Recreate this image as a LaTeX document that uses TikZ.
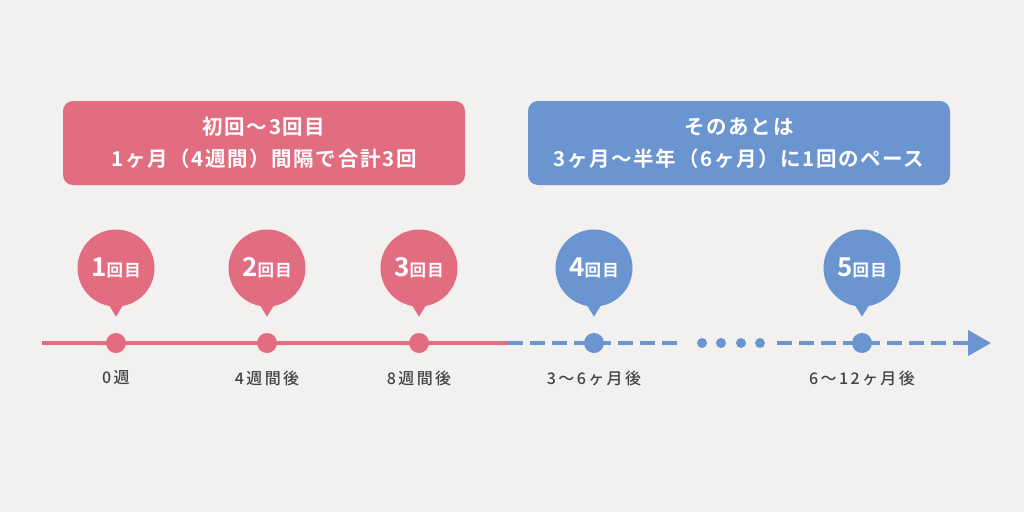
\documentclass[tikz,border=0pt]{standalone}
\usepackage{fontspec}
\usepackage{xcolor}
\usetikzlibrary{arrows.meta,positioning,calc}
\newfontfamily\jpbold[LetterSpace=8]{Noto Sans CJK JP Bold}
\newfontfamily\jplabel[LetterSpace=15]{Noto Sans CJK JP Medium}
\definecolor{vacPink}{RGB}{226,109,129}
\definecolor{vacBlue}{RGB}{107,149,208}
\definecolor{vacBack}{RGB}{243,241,239}
\definecolor{vacText}{RGB}{68,68,68}

\begin{document}
\begin{tikzpicture}[x=1pt, y=-1pt,
    phase/.style={rectangle, rounded corners=10pt, minimum width=402pt,
                  minimum height=84pt, text=white, align=center,
                  font=\jpbold\fontsize{20.5}{32}\selectfont},
    pin/.style={circle, minimum size=77pt, inner sep=0pt, text=white,
                font=\jpbold},
    tick/.style={circle, minimum size=20pt, inner sep=0pt},
    dot/.style={circle, minimum size=10pt, inner sep=0pt, fill=vacBlue},
    when/.style={text=vacText, font=\jplabel\fontsize{16}{16}\selectfont},
    early/.style={vacPink, line width=4pt},
    later/.style={vacBlue, line width=4pt, dash pattern=on 15pt off 7pt}
  ]
  \useasboundingbox[fill=vacBack] (0,0) rectangle (1024,512);

  \node[phase, fill=vacPink] (first) at (264,143)
    {初回〜3回目\\1ヶ月（4週間）間隔で合計3回};
  \node[phase, fill=vacBlue, minimum width=422pt] (after) at (739,143)
    {そのあとは\\3ヶ月〜半年（6ヶ月）に1回のペース};

  \coordinate (start) at (42,343);
  \coordinate (mid)   at (508,343);
  \coordinate (gapA)  at (680,343);
  \coordinate (gapB)  at (777,343);
  \coordinate (stop)  at (991,343);

  \draw[early] (start) -- (mid);
  \draw[later] (mid) -- (gapA);
  \draw[later, -{Triangle[length=23pt, width=25pt]}] (gapB) -- (stop);

  \node[dot] (e1) at (702,343) {};
  \node[dot] (e2) at (721,343) {};
  \node[dot] (e3) at (741,343) {};
  \node[dot] (e4) at (760,343) {};

  \node[tick, fill=vacPink] (t1) at (116,343) {};
  \node[tick, fill=vacPink] (t2) at (267,343) {};
  \node[tick, fill=vacPink] (t3) at (419,343) {};
  \node[tick, fill=vacBlue] (t4) at (594,343) {};
  \node[tick, fill=vacBlue] (t5) at (862,343) {};

  \node[pin, fill=vacPink] (p1) at (116,268)
    {{\fontsize{26}{26}\selectfont 1}{\fontsize{16.5}{16}\selectfont 回目}};
  \node[pin, fill=vacPink] (p2) at (267,268)
    {{\fontsize{26}{26}\selectfont 2}{\fontsize{16.5}{16}\selectfont 回目}};
  \node[pin, fill=vacPink] (p3) at (419,268)
    {{\fontsize{26}{26}\selectfont 3}{\fontsize{16.5}{16}\selectfont 回目}};
  \node[pin, fill=vacBlue] (p4) at (594,268)
    {{\fontsize{26}{26}\selectfont 4}{\fontsize{16.5}{16}\selectfont 回目}};
  \node[pin, fill=vacBlue] (p5) at (862,268)
    {{\fontsize{26}{26}\selectfont 5}{\fontsize{16.5}{16}\selectfont 回目}};

  \fill[vacPink] ($(p1.south)+(-11,-8)$) -- ($(p1.south)+(11,-8)$) -- ($(p1.south)+(0,10)$) -- cycle;
  \fill[vacPink] ($(p2.south)+(-11,-8)$) -- ($(p2.south)+(11,-8)$) -- ($(p2.south)+(0,10)$) -- cycle;
  \fill[vacPink] ($(p3.south)+(-11,-8)$) -- ($(p3.south)+(11,-8)$) -- ($(p3.south)+(0,10)$) -- cycle;
  \fill[vacBlue] ($(p4.south)+(-11,-8)$) -- ($(p4.south)+(11,-8)$) -- ($(p4.south)+(0,10)$) -- cycle;
  \fill[vacBlue] ($(p5.south)+(-11,-8)$) -- ($(p5.south)+(11,-8)$) -- ($(p5.south)+(0,10)$) -- cycle;

  \node[when] (w1) at (116,378) {0週};
  \node[when] (w2) at (267,378) {4週間後};
  \node[when] (w3) at (419,378) {8週間後};
  \node[when] (w4) at (594,378) {3〜6ヶ月後};
  \node[when] (w5) at (862,378) {6〜12ヶ月後};
\end{tikzpicture}
\end{document}
